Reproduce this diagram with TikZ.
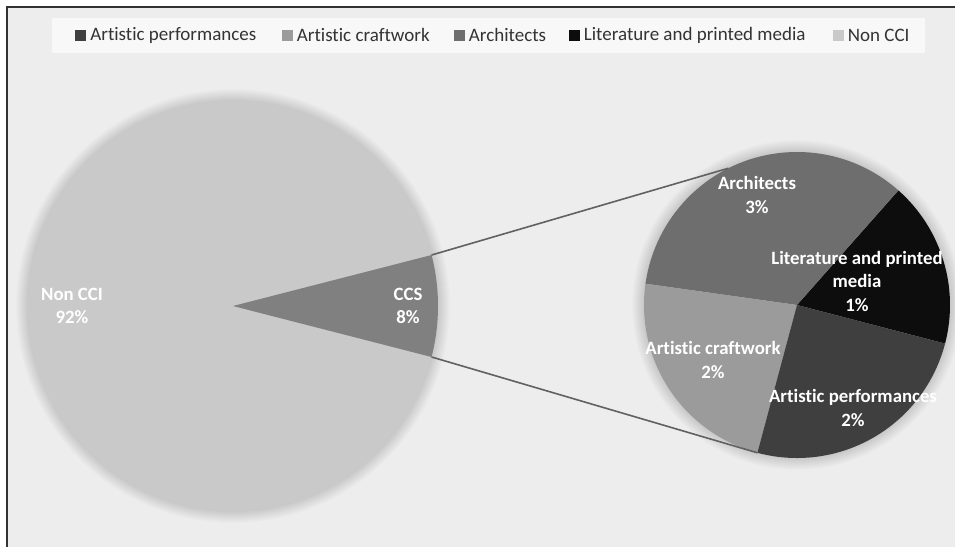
\documentclass[tikz,border=0pt]{standalone}
\usepackage{fontspec}
\setmainfont{Carlito}[Ligatures=NoCommon]
\usepackage{tikz}
\usetikzlibrary{positioning,calc}

\definecolor{bgcol}{HTML}{EDEDED}
\definecolor{legcol}{HTML}{F8F8F8}
\definecolor{noncol}{HTML}{C9C9C9}
\definecolor{ccscol}{HTML}{808080}
\definecolor{archcol}{HTML}{6E6E6E}
\definecolor{litcol}{HTML}{0D0D0D}
\definecolor{craftcol}{HTML}{9B9B9B}
\definecolor{perfcol}{HTML}{3F3F3F}
\definecolor{textcol}{HTML}{333333}

\begin{document}
\begin{tikzpicture}[x=1pt,y=1pt,
    slicelabel/.style={text=white,font=\fontsize{18.8}{23.5}\selectfont\bfseries,align=center,inner sep=0pt},
    legendkey/.style={minimum size=11pt,inner sep=0pt},
    legendtext/.style={text=textcol,font=\fontsize{19}{21}\selectfont,inner sep=0pt,right=4pt of #1},
    zoomline/.style={draw=black!62,line width=1.6pt}]
  \useasboundingbox (0,0) rectangle (955,-547);
  % background and frame
  \fill[white] (0,0) rectangle (955,-547);
  \fill[bgcol] (7,-7) rectangle (955,-547);
  \draw[black!80,line width=2pt] (7,-547) -- (7,-7) -- (955,-7);
  % legend
  \fill[legcol] (52,-18) rectangle (925,-53);
  \node[legendkey,fill=perfcol] (kperf) at (80.5,-35) {};
  \node[legendtext=kperf] (tperf) {Artistic performances};
  \node[legendkey,fill=craftcol] (kcraft) at (287,-35) {};
  \node[legendtext=kcraft] (tcraft) {Artistic craftwork};
  \node[legendkey,fill=archcol] (karch) at (459,-35) {};
  \node[legendtext=karch] (tarch) {Architects};
  \node[legendkey,fill=litcol] (klit) at (574,-35) {};
  \node[legendtext=klit] (tlit) {Literature and printed media};
  \node[legendkey,fill=noncol] (knon) at (838,-35) {};
  \node[legendtext=knon] (tnon) {Non CCI};
  % centres
  \coordinate (main) at (233,-306);
  \coordinate (sub) at (797,-305);
  % soft shadows
  \foreach \d in {1,...,14} {
    \fill[black,opacity=0.011] (main) circle (203+\d);
    \fill[black,opacity=0.011] (sub) circle (151+\d);
  }
  % main pie
  \fill[noncol] (main) -- ++(14.4:205) arc (14.4:345.6:205) -- cycle;
  \fill[ccscol] (main) -- ++(-14.4:205) arc (-14.4:14.4:205) -- cycle;
  % second pie
  \fill[litcol] (sub) -- ++(-14.6:153) arc (-14.6:48.5:153) -- cycle;
  \fill[archcol] (sub) -- ++(48.5:153) arc (48.5:172:153) -- cycle;
  \fill[craftcol] (sub) -- ++(172:153) arc (172:255:153) -- cycle;
  \fill[perfcol] (sub) -- ++(255:153) arc (255:345.4:153) -- cycle;
  % connectors
  \coordinate (ccsup) at ($(main)+(14.4:205)$);
  \coordinate (ccsdown) at ($(main)+(-14.4:205)$);
  \coordinate (subup) at ($(sub)+(116.6:153)$);
  \coordinate (subdown) at ($(sub)+(255:153)$);
  \draw[zoomline] (ccsup) -- (subup);
  \draw[zoomline] (ccsdown) -- (subdown);
  % labels
  \node[slicelabel] (lnon) at (72,-306) {Non CCI\\92\%};
  \node[slicelabel] (lccs) at (408,-306) {CCS\\8\%};
  \node[slicelabel] (larch) at (757,-195) {Architects\\3\%};
  \node[slicelabel] (llit) at (857,-281) {Literature and printed\\media\\1\%};
  \node[slicelabel] (lcraft) at (713,-360) {Artistic craftwork\\2\%};
  \node[slicelabel] (lperf) at (853,-408) {Artistic performances\\2\%};
\end{tikzpicture}
\end{document}
